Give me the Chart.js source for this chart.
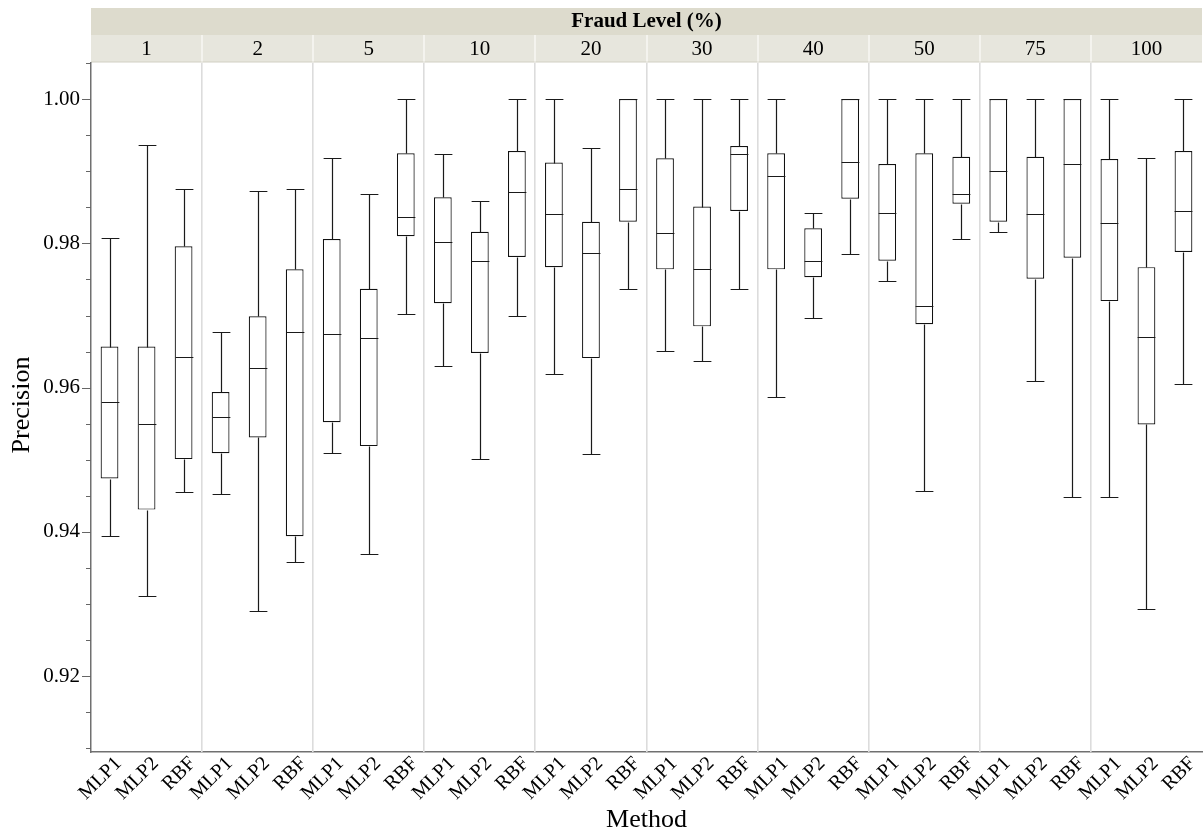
<!DOCTYPE html>
<html>
<head>
<meta charset="utf-8">
<script src="https://cdn.jsdelivr.net/npm/chart.js@4/dist/chart.umd.min.js"></script>
<style>
  html, body { margin: 0; padding: 0; background: #ffffff; }
  #wrap { width: 1203px; height: 834px; position: relative; }
  canvas { display: block; }
</style>
</head>
<body>
<div id="wrap"><canvas id="c" width="1203" height="834"></canvas></div>
<script>
// Fraud levels (panels) and the methods compared inside each panel
const fraudLevels = ['1', '2', '5', '10', '20', '30', '40', '50', '75', '100'];
const methods = ['MLP1', 'MLP2', 'RBF'];

// Box-plot summaries, level by level, MLP1 / MLP2 / RBF within each level
const whiskerLow = [
  0.9394, 0.9311, 0.9455,   0.9452, 0.9290, 0.9359,   0.9510, 0.9370, 0.9702,
  0.9630, 0.9501, 0.9699,   0.9619, 0.9508, 0.9737,   0.9651, 0.9637, 0.9737,
  0.9587, 0.9696, 0.9785,   0.9748, 0.9457, 0.9806,   0.9816, 0.9609, 0.9449,
  0.9449, 0.9293, 0.9605
];
const quartile1 = [
  0.9474, 0.9431, 0.9501,   0.9509, 0.9531, 0.9394,   0.9552, 0.9519, 0.9810,
  0.9717, 0.9648, 0.9781,   0.9767, 0.9641, 0.9830,   0.9764, 0.9685, 0.9845,
  0.9764, 0.9753, 0.9862,   0.9776, 0.9688, 0.9855,   0.9830, 0.9751, 0.9780,
  0.9720, 0.9549, 0.9788
];
const medians = [
  0.9580, 0.9549, 0.9642,   0.9559, 0.9627, 0.9677,   0.9674, 0.9669, 0.9837,
  0.9802, 0.9776, 0.9871,   0.9841, 0.9787, 0.9875,   0.9814, 0.9764, 0.9924,
  0.9893, 0.9776, 0.9913,   0.9842, 0.9713, 0.9868,   0.9900, 0.9841, 0.9910,
  0.9828, 0.9670, 0.9845
];
const quartile3 = [
  0.9657, 0.9657, 0.9796,   0.9594, 0.9699, 0.9764,   0.9806, 0.9737, 0.9925,
  0.9864, 0.9816, 0.9928,   0.9912, 0.9830, 1.0000,   0.9918, 0.9851, 0.9935,
  0.9925, 0.9821, 1.0000,   0.9910, 0.9925, 0.9920,   1.0000, 0.9920, 1.0000,
  0.9917, 0.9767, 0.9928
];
const whiskerHigh = [
  0.9807, 0.9937, 0.9875,   0.9677, 0.9872, 0.9875,   0.9918, 0.9868, 1.0000,
  0.9924, 0.9859, 1.0000,   1.0000, 0.9932, 1.0000,   1.0000, 1.0000, 1.0000,
  1.0000, 0.9842, 1.0000,   1.0000, 1.0000, 1.0000,   1.0000, 1.0000, 1.0000,
  1.0000, 0.9918, 1.0000
];

// Axis settings
const yMin = 0.9095;
const yMax = 1.005;
const yLabelTicks = [0.92, 0.94, 0.96, 0.98, 1.00];
const yMinorStep = 0.005;

const categoryLabels = [];
fraudLevels.forEach(() => methods.forEach(m => categoryLabels.push(m)));

const SERIF = "'Liberation Serif', 'Times New Roman', serif";
const isLabelled = v => yLabelTicks.some(t => Math.abs(t - v) < 1e-6);

const boxPlotPlugin = {
  id: 'boxPlotPlugin',
  beforeDraw(chart) {
    const { ctx, chartArea: a, scales: { x } } = chart;
    ctx.save();
    // strip headers above the panels
    ctx.fillStyle = '#dddbcd';
    ctx.fillRect(a.left, 8, a.right - a.left, 27);
    ctx.fillStyle = '#e7e6dd';
    ctx.fillRect(a.left, 35, a.right - a.left, 27);
    ctx.fillStyle = '#d2d0c4';
    ctx.fillRect(a.left, 61.5, a.right - a.left, 1);
    ctx.fillStyle = '#f4f3ee';
    for (let p = 1; p < fraudLevels.length; p++) {
      const bx = (x.getPixelForValue(p * 3 - 1) + x.getPixelForValue(p * 3)) / 2;
      ctx.fillRect(Math.round(bx) - 1, 35, 2, 26.5);
    }
    ctx.fillStyle = '#000';
    ctx.textAlign = 'center';
    ctx.textBaseline = 'middle';
    ctx.font = 'bold 21px ' + SERIF;
    ctx.fillText('Fraud Level (%)', (a.left + a.right) / 2, 22);
    ctx.font = '21px ' + SERIF;
    fraudLevels.forEach((lvl, p) => {
      const cx = x.getPixelForValue(p * 3 + 1);
      ctx.fillText(lvl, cx, 49);
    });
    ctx.restore();
  },
  beforeDatasetsDraw(chart) {
    const { ctx, chartArea: a, scales: { x, y } } = chart;
    ctx.save();
    // panel separators
    ctx.fillStyle = '#dcdcdc';
    for (let p = 1; p < fraudLevels.length; p++) {
      const bx = (x.getPixelForValue(p * 3 - 1) + x.getPixelForValue(p * 3)) / 2;
      ctx.fillRect(Math.round(bx) - 1, a.top, 1.6, a.bottom - a.top);
    }
    // y tick marks: long at labelled values, short otherwise
    ctx.strokeStyle = '#666';
    ctx.lineWidth = 1;
    y.ticks.forEach(t => {
      const py = Math.round(y.getPixelForValue(t.value)) + 0.5;
      const len = isLabelled(t.value) ? 9 : 5;
      ctx.beginPath();
      ctx.moveTo(a.left - len, py);
      ctx.lineTo(a.left, py);
      ctx.stroke();
    });
    ctx.restore();
  },
  afterDatasetsDraw(chart) {
    const { ctx, scales: { y } } = chart;
    const meta = chart.getDatasetMeta(0);
    const px = v => Math.round(y.getPixelForValue(v)) + 0.5;
    ctx.save();
    ctx.strokeStyle = '#1a1a1a';
    ctx.lineWidth = 1.2;
    meta.data.forEach((bar, i) => {
      const { x: bxc, width } = bar.getProps(['x', 'width'], true);
      const cx = Math.round(bxc) + 0.5;
      const half = width / 2;
      const yLo = px(whiskerLow[i]);
      const yQ1 = px(quartile1[i]);
      const yMed = px(medians[i]);
      const yQ3 = px(quartile3[i]);
      const yHi = px(whiskerHigh[i]);
      ctx.beginPath();
      // upper whisker and cap
      if (yHi < yQ3) {
        ctx.moveTo(cx, yQ3); ctx.lineTo(cx, yHi);
      }
      ctx.moveTo(cx - half, yHi); ctx.lineTo(cx + half, yHi);
      // lower whisker and cap
      if (yLo > yQ1) {
        ctx.moveTo(cx, yQ1); ctx.lineTo(cx, yLo);
      }
      ctx.moveTo(cx - half, yLo); ctx.lineTo(cx + half, yLo);
      // median
      ctx.moveTo(cx - half, yMed); ctx.lineTo(cx + half, yMed);
      ctx.stroke();
    });
    ctx.restore();
  },
  afterDraw(chart) {
    const { ctx, chartArea: a } = chart;
    ctx.save();
    ctx.fillStyle = '#000';
    ctx.font = '26px ' + SERIF;
    ctx.textAlign = 'center';
    ctx.textBaseline = 'middle';
    ctx.fillText('Method', (a.left + a.right) / 2, 820);
    ctx.translate(22, 405);
    ctx.rotate(-Math.PI / 2);
    ctx.fillText('Precision', 0, 0);
    ctx.restore();
  }
};

new Chart(document.getElementById('c'), {
  type: 'bar',
  data: {
    labels: categoryLabels,
    datasets: [{
      label: 'Precision',
      data: quartile1.map((q, i) => [q, quartile3[i]]),
      backgroundColor: '#ffffff',
      borderColor: '#111111',
      borderWidth: 1.2,
      borderSkipped: false,
      categoryPercentage: 1.0,
      barPercentage: 0.48
    }]
  },
  options: {
    responsive: false,
    animation: false,
    devicePixelRatio: 1,
    layout: { padding: { top: 63, right: 1, left: 0, bottom: 0 } },
    plugins: {
      legend: { display: false },
      tooltip: { enabled: false },
      title: { display: false }
    },
    scales: {
      x: {
        type: 'category',
        offset: true,
        grid: { display: false, drawTicks: false },
        border: { display: true, color: '#707070', width: 1.5 },
        ticks: {
          autoSkip: false,
          minRotation: 45,
          maxRotation: 45,
          padding: 0,
          labelOffset: 9,
          color: '#000',
          font: { family: SERIF, size: 20 }
        },
        afterFit(scale) { scale.height = 82; }
      },
      y: {
        type: 'linear',
        min: yMin,
        max: yMax,
        grid: { display: false, drawTicks: false },
        border: { display: true, color: '#707070', width: 1.5 },
        afterBuildTicks(scale) {
          const ticks = [];
          for (let k = Math.ceil(yMin / yMinorStep - 1e-6); k * yMinorStep <= yMax + 1e-9; k++) {
            ticks.push({ value: +(k * yMinorStep).toFixed(3) });
          }
          scale.ticks = ticks;
        },
        ticks: {
          padding: 11,
          color: '#000',
          font: { family: SERIF, size: 21 },
          callback: v => (isLabelled(v) ? v.toFixed(2) : '')
        },
        afterFit(scale) { scale.width = 91; }
      }
    }
  },
  plugins: [boxPlotPlugin]
});
</script>
</body>
</html>
